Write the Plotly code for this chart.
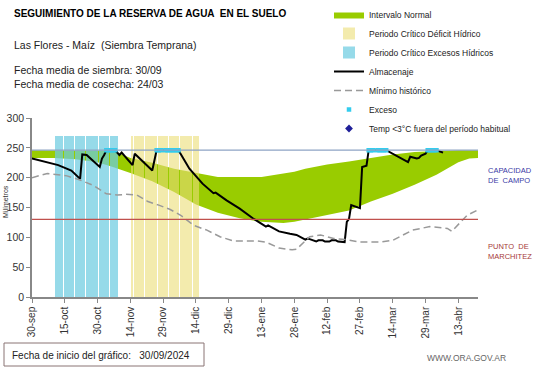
import plotly.graph_objects as go

# ---------------- data (day index 0 = 30-sep-2024) ----------------
TICK_DAYS = [0, 15, 30, 45, 60, 75, 90, 105, 120, 135, 150, 165, 180, 195]
TICK_LABELS = ["30-sep", "15-oct", "30-oct", "14-nov", "29-nov", "14-dic", "29-dic",
               "13-ene", "28-ene", "12-feb", "27-feb", "14-mar", "29-mar", "13-abr"]
X_END = 204

BAND_DAYS = [0, 10, 20, 30, 37, 45, 55, 65, 75, 85, 95, 105, 115, 120, 125, 135,
             145, 155, 165, 175, 185, 195, 200, 204]
BAND_UPPER = [246, 246, 246, 246, 245, 233, 225, 215, 208, 201, 201, 201, 207, 210,
              215, 222, 227, 233, 239, 243, 245, 246, 246, 246]
BAND_LOWER = [233, 233, 231, 226, 218, 208, 194, 176, 155, 141, 132, 126, 124, 126,
              130, 138, 145, 160, 173, 188, 205, 226, 232, 233]

ALM_DAYS = [0, 5, 12, 18, 22, 23, 25, 31, 32, 33, 34, 38, 40, 41, 46, 47, 55, 57, 67,
            72, 78, 83, 84, 89, 95, 101, 107, 108, 113, 118, 121, 125, 126, 127, 130,
            131, 133, 134, 136, 137, 139, 140, 143, 144, 145, 146, 150, 151, 153, 154,
            162, 172, 173, 176, 177, 178, 180, 181, 185, 188]
ALM_VALS = [232, 227, 221, 212, 198, 239, 238, 218, 232, 238, 246, 246, 238, 242, 221,
            240, 212, 246, 246, 215, 190, 174, 175, 162, 148, 132, 118, 120, 110, 106,
            104, 96, 98, 97, 93, 95, 95, 93, 93, 95, 95, 93, 92, 126, 131, 154, 149,
            218, 220, 246, 246, 226, 235, 232, 233, 237, 240, 246, 246, 242]

MIN_DAYS = [0, 7, 16, 22, 28, 34, 39, 43, 48, 53, 58, 63, 68, 74, 80, 86, 92, 98, 103,
            107, 113, 119, 121, 127, 132, 138, 144, 150, 159, 165, 174, 182, 190, 192,
            199, 204]
MIN_VALS = [200, 207, 203, 196, 187, 173, 171, 172, 171, 160, 154, 147, 137, 120, 112,
            101, 94, 94, 94, 92, 82, 79, 80, 101, 104, 98, 96, 92, 92, 95, 112, 118,
            115, 110, 137, 146]

EXC_DAYS = [34, 35, 36, 37, 38, 57, 58, 59, 61, 62, 63, 64, 65, 66, 67,
            154, 155, 156, 158, 159, 160, 161, 162, 181, 182, 183, 184, 185]
EXC_VALS = [246] * len(EXC_DAYS)

TEMP_DAYS = []
TEMP_VALS = []

EXCESOS_DAYS = list(range(11, 40))     # Periodo crítico excesos hídricos
DEFICIT_DAYS = list(range(46, 77))     # Periodo crítico déficit hídrico
PERIODO_TOP = 270

CAPACIDAD = 246
MARCHITEZ = 130

Y_TICKS = [0, 50, 100, 150, 200, 250, 300]

# ---------------- layout helpers ----------------
W, H = 541, 368
PL, PR, PT, PB = 32, 478, 118, 297


def pxx(x):
    return (x - PL) / (PR - PL)


def pxy(y):
    return (PB - y) / (PB - PT)


FONT = "Liberation Sans, Arial, sans-serif"

fig = go.Figure()

# green band (base subplot)
fig.add_trace(go.Scatter(x=BAND_DAYS, y=BAND_LOWER, mode="lines", line=dict(width=0, color="#99cc00"),
                         showlegend=False, hoverinfo="skip"))
fig.add_trace(go.Scatter(x=BAND_DAYS, y=BAND_UPPER, mode="lines", line=dict(width=0, color="#99cc00"),
                         fill="tonexty", fillcolor="#99cc00", name="Intervalo Normal"))

# stripes (overlay subplot, above the band)
fig.add_trace(go.Bar(x=DEFICIT_DAYS, y=[PERIODO_TOP] * len(DEFICIT_DAYS), width=0.58,
                     marker=dict(color="rgb(236,222,120)", line=dict(width=0)), opacity=0.6,
                     name="Periodo Crítico Déficit Hídrico", xaxis="x2", yaxis="y"))
fig.add_trace(go.Bar(x=EXCESOS_DAYS, y=[PERIODO_TOP] * len(EXCESOS_DAYS), width=0.58,
                     marker=dict(color="rgb(110,205,225)", line=dict(width=0)), opacity=0.72,
                     name="Periodo Crítico Excesos Hídricos", xaxis="x2", yaxis="y"))

fig.add_trace(go.Scatter(x=ALM_DAYS, y=ALM_VALS, mode="lines", line=dict(color="black", width=2),
                         name="Almacenaje", xaxis="x2", yaxis="y"))
fig.add_trace(go.Scatter(x=MIN_DAYS, y=MIN_VALS, mode="lines",
                         line=dict(color="#999999", width=1.5, dash="7px,4px"),
                         name="Mínimo histórico", xaxis="x2", yaxis="y"))
fig.add_trace(go.Scatter(x=EXC_DAYS, y=EXC_VALS, mode="markers",
                         marker=dict(symbol="square", size=4.5, color="#33ccee"),
                         name="Exceso", xaxis="x2", yaxis="y"))
fig.add_trace(go.Scatter(x=TEMP_DAYS or [None], y=TEMP_VALS or [None], mode="markers",
                         marker=dict(symbol="diamond", size=6, color="#1f1f99"),
                         name="Temp &lt;3°C fuera del período habitual", xaxis="x2", yaxis="y"))

# reference lines
fig.add_shape(type="line", xref="x domain", yref="y", x0=0, x1=1, y0=CAPACIDAD, y1=CAPACIDAD,
              line=dict(color="#8ea3c4", width=1.2), layer="above")
fig.add_shape(type="line", xref="x domain", yref="y", x0=0, x1=1, y0=MARCHITEZ, y1=MARCHITEZ,
              line=dict(color="#c0504d", width=1.2), layer="above")

# bottom box
fig.add_shape(type="rect", xref="paper", yref="paper", x0=pxx(4), x1=pxx(204), y0=pxy(366), y1=pxy(343),
              line=dict(color="#8a7474", width=1))

ann = [
    dict(text="<b>SEGUIMIENTO DE LA RESERVA DE AGUA  EN EL SUELO</b>", x=pxx(12), y=pxy(14),
         font=dict(size=10, color="black")),
    dict(text="Las Flores - Maíz  (Siembra Temprana)", x=pxx(12), y=pxy(45),
         font=dict(size=10.5, color="#222")),
    dict(text="Fecha media de siembra: 30/09<br>Fecha media de cosecha: 24/03", x=pxx(12), y=pxy(77),
         font=dict(size=10.5, color="#222")),
    dict(text="Fecha de inicio del gráfico:   30/09/2024", x=pxx(10), y=pxy(355),
         font=dict(size=10, color="#222")),
    dict(text="WWW.ORA.GOV.AR", x=pxx(425), y=pxy(358), font=dict(size=8.5, color="#666")),
    dict(text="CAPACIDAD<br>DE  CAMPO", x=pxx(486), y=pxy(175), font=dict(size=7.5, color="#3a3aa6")),
    dict(text="PUNTO  DE<br>MARCHITEZ", x=pxx(486), y=pxy(251), font=dict(size=7.5, color="#a63a3a")),
]
for a in ann:
    fig.add_annotation(xref="paper", yref="paper", xanchor="left", yanchor="middle", showarrow=False,
                       align="left", **a)
fig.add_annotation(text="Milímetros", xref="paper", yref="paper", x=pxx(5), y=pxy(202), textangle=-90,
                   showarrow=False, font=dict(size=7, color="#333"), xanchor="center", yanchor="middle")

fig.update_layout(
    width=W, height=H,
    margin=dict(l=PL, r=W - PR, t=PT, b=H - PB, autoexpand=False),
    paper_bgcolor="white", plot_bgcolor="white",
    font=dict(family=FONT, color="#333"),
    barmode="overlay", bargap=0,
    showlegend=True,
    legend=dict(x=pxx(329), y=pxy(0), xanchor="left", yanchor="top", bgcolor="rgba(0,0,0,0)",
                font=dict(size=8.5, color="#222"), itemwidth=30, traceorder="normal"),
    xaxis=dict(range=[0, X_END], tickmode="array", tickvals=TICK_DAYS, ticktext=TICK_LABELS,
               tickangle=-90, ticks="outside", ticklen=4, tickcolor="#888", showline=True,
               linecolor="#888", linewidth=1.5, showgrid=False, zeroline=False,
               tickfont=dict(size=10, color="#333")),
    xaxis2=dict(range=[0, X_END], overlaying="x", visible=False, showgrid=False, zeroline=False),
    yaxis=dict(range=[0, 300], tickvals=Y_TICKS, ticks="outside", ticklen=4, tickcolor="#888",
               showline=True, linecolor="#888", linewidth=1.5, showgrid=False, zeroline=False,
               tickfont=dict(size=10.5, color="#333")),
)

fig.write_html("out.html", config={"displayModeBar": False},
               post_script="document.body.style.margin='0px';")
